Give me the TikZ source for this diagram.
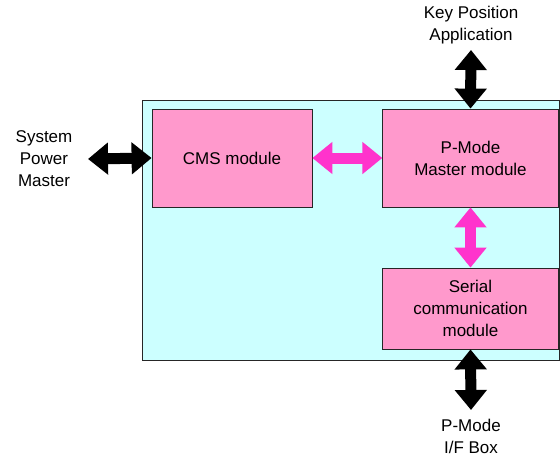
\documentclass[tikz,border=0pt]{standalone}
\usepackage{fontspec}
\setmainfont{Liberation Sans}
\usetikzlibrary{arrows.meta}
\definecolor{panelcyan}{HTML}{CCFFFF}
\definecolor{modpink}{HTML}{FF99CC}
\definecolor{linkmag}{HTML}{FF33CC}
\begin{document}
\begin{tikzpicture}[x=1pt,y=-1pt,
  module/.style={draw=black!85,line width=0.8pt,fill=modpink,align=center,
    inner sep=0pt,font=\fontsize{17}{22}\selectfont},
  label/.style={align=center,inner sep=0pt,font=\fontsize{17}{22}\selectfont},
  fatlink/.style={line width=11pt,
    {Triangle[width=31pt,length=20pt]}-{Triangle[width=31pt,length=20pt]}},
  extlink/.style={fatlink,draw=black},
  intlink/.style={fatlink,draw=linkmag}]
\useasboundingbox (0,0) rectangle (560,456);

% controller panel
\draw[fill=panelcyan,draw=black!85,line width=0.8pt] (142,100) rectangle (559.5,360);

% modules
\node[module,minimum width=160pt,minimum height=98pt] (cms) at (232,158) {CMS module};
\node[module,minimum width=175.5pt,minimum height=98pt] (pm) at (470.5,158) {P-Mode\\Master module};
\node[module,minimum width=175.5pt,minimum height=81pt] (ser) at (470.5,308.5) {Serial\\communication\\module};

% external parties
\node[label] (spm) at (44,159) {System\\Power\\Master};
\node[label] (kpa) at (471,25) {Key Position\\Application};
\node[label] (ifb) at (471,436) {P-Mode\\I/F Box};

\coordinate (spmEnd) at (88,159);
\coordinate (kpaEnd) at (471,50);
\coordinate (ifbEnd) at (471,410);

% links
\draw[extlink] (spmEnd) -- (cms.west);
\draw[extlink] (kpaEnd) -- (pm.north);
\draw[extlink] (ser.south) -- (ifbEnd);
\draw[intlink] (cms.east) -- (pm.west);
\draw[intlink] (pm.south) -- (ser.north);
\end{tikzpicture}
\end{document}
